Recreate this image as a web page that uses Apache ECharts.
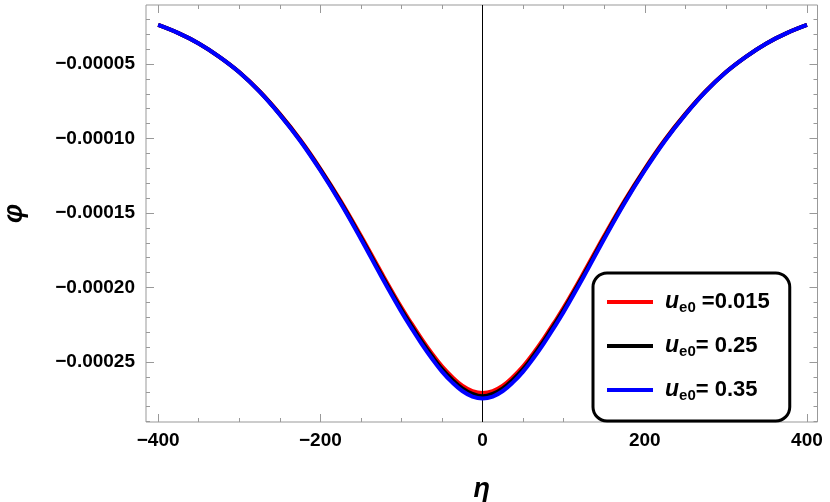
<!DOCTYPE html>
<html>
<head>
<meta charset="utf-8">
<script src="https://cdn.jsdelivr.net/npm/echarts@6/dist/echarts.min.js"></script>
<style>
  html, body { margin: 0; padding: 0; background: #fff; }
  #main { width: 830px; height: 502px; }
</style>
</head>
<body>
<div id="main"></div>
<script>
// eta values (x)
var eta = [-400, -375, -350, -325, -300, -275, -250, -225, -200, -175, -150, -125, -100, -87.5, -75, -62.5,
           -50, -37.5, -25, -12.5, 0, 12.5, 25, 37.5, 50, 62.5, 75, 87.5, 100, 125, 150, 175, 200, 225,
           250, 275, 300, 325, 350, 375, 400];

// phi for u_e0 = 0.015 (red)
var phiRed = [-2.38e-5, -2.93e-5, -3.62e-5, -4.50e-5, -5.54e-5, -6.83e-5, -8.35e-5, -10.07e-5, -12.03e-5,
              -14.18e-5, -16.53e-5, -18.98e-5, -21.35e-5, -22.43e-5, -23.47e-5, -24.43e-5,
              -25.30e-5, -26.01e-5, -26.59e-5, -26.95e-5, -27.08e-5, -26.95e-5, -26.59e-5, -26.01e-5,
              -25.30e-5, -24.43e-5, -23.47e-5, -22.43e-5, -21.35e-5, -18.98e-5, -16.53e-5, -14.18e-5,
              -12.03e-5, -10.07e-5, -8.35e-5, -6.83e-5, -5.54e-5, -4.50e-5, -3.62e-5, -2.93e-5, -2.38e-5];
// phi for u_e0 = 0.25 (black)
var phiBlack = [-2.38e-5, -2.93e-5, -3.62e-5, -4.50e-5, -5.55e-5, -6.84e-5, -8.38e-5, -10.11e-5, -12.09e-5,
                -14.27e-5, -16.65e-5, -19.12e-5, -21.50e-5, -22.59e-5, -23.64e-5, -24.60e-5,
                -25.48e-5, -26.19e-5, -26.77e-5, -27.14e-5, -27.30e-5, -27.14e-5, -26.77e-5, -26.19e-5,
                -25.48e-5, -24.60e-5, -23.64e-5, -22.59e-5, -21.50e-5, -19.12e-5, -16.65e-5, -14.27e-5,
                -12.09e-5, -10.11e-5, -8.38e-5, -6.84e-5, -5.55e-5, -4.50e-5, -3.62e-5, -2.93e-5, -2.38e-5];
// phi for u_e0 = 0.35 (blue)
var phiBlue = [-2.38e-5, -2.93e-5, -3.62e-5, -4.50e-5, -5.55e-5, -6.85e-5, -8.40e-5, -10.15e-5, -12.15e-5,
               -14.35e-5, -16.75e-5, -19.25e-5, -21.65e-5, -22.75e-5, -23.80e-5, -24.77e-5,
               -25.65e-5, -26.37e-5, -26.95e-5, -27.32e-5, -27.45e-5, -27.32e-5, -26.95e-5, -26.37e-5,
               -25.65e-5, -24.77e-5, -23.80e-5, -22.75e-5, -21.65e-5, -19.25e-5, -16.75e-5, -14.35e-5,
               -12.15e-5, -10.15e-5, -8.40e-5, -6.85e-5, -5.55e-5, -4.50e-5, -3.62e-5, -2.93e-5, -2.38e-5];

var legendLabels = [' =0.015', '= 0.25', '= 0.35'];
var seriesNames = ['a', 'b', 'c'];

// ticks
var xMajor = [-400, -200, 0, 200, 400];
var xMinor = [-400, -350, -300, -250, -200, -150, -100, -50, 0, 50, 100, 150, 200, 250, 300, 350, 400];
var yMajor = [-0.00025, -0.00020, -0.00015, -0.00010, -0.00005];
var yMinor = [-0.00029, -0.00028, -0.00027, -0.00026, -0.00025, -0.00024, -0.00023, -0.00022, -0.00021,
              -0.00020, -0.00019, -0.00018, -0.00017, -0.00016, -0.00015, -0.00014, -0.00013, -0.00012,
              -0.00011, -0.00010, -0.00009, -0.00008, -0.00007, -0.00006, -0.00005, -0.00004, -0.00003,
              -0.00002];

var xMin = -415, xMax = 413;
var yMin = -0.0002903, yMax = -0.0000104;
var tickColor = '#999';
var sans = 'Liberation Sans, Arial, sans-serif';
var labelFont = { color: '#000', fontWeight: 'bold', fontSize: 19, fontFamily: sans };
var nameFont = { fontSize: 27, fontWeight: 'bold', fontStyle: 'italic', color: '#000', fontFamily: sans };

function pairs(ys) {
    var out = [];
    for (var i = 0; i < eta.length; i++) out.push([eta[i], ys[i]]);
    return out;
}

function xAx(pos, ticks, len, labels) {
    var a = {
        type: 'value', position: pos, min: xMin, max: xMax,
        axisLine: { show: false, onZero: false },
        splitLine: { show: false },
        axisTick: { show: true, inside: true, length: len, customValues: ticks, lineStyle: { color: tickColor } },
        axisLabel: { show: false }
    };
    if (labels) {
        a.axisLabel = Object.assign({
            show: true, customValues: xMajor, margin: 9,
            formatter: function (v) { return String(v).replace('-', '\u2212'); }
        }, labelFont);
        a.name = '\u03b7';
        a.nameLocation = 'middle';
        a.nameGap = 54;
        a.nameTextStyle = nameFont;
    }
    return a;
}

function yAx(pos, ticks, len, labels) {
    var a = {
        type: 'value', position: pos, min: yMin, max: yMax,
        axisLine: { show: false, onZero: false },
        splitLine: { show: false },
        axisTick: { show: true, inside: true, length: len, customValues: ticks, lineStyle: { color: tickColor } },
        axisLabel: { show: false }
    };
    if (labels) {
        a.axisLabel = Object.assign({
            show: true, customValues: yMajor, margin: 11,
            formatter: function (v) { return v.toFixed(5).replace('-', '\u2212'); }
        }, labelFont);
        a.name = '\u03c6';
        a.nameLocation = 'middle';
        a.nameRotate = 90;
        a.nameGap = 118;
        a.nameTextStyle = nameFont;
    }
    return a;
}

var myChart = echarts.init(document.getElementById('main'), null, { renderer: 'canvas' });
var colors = ['#ff0000', '#000000', '#0000ff'];
var data = [phiRed, phiBlack, phiBlue];
var series = [];
for (var k = 0; k < 3; k++) {
    series.push({
        name: seriesNames[k],
        type: 'line',
        xAxisIndex: 0, yAxisIndex: 0,
        smooth: 0.4,
        showSymbol: false,
        animation: false,
        lineStyle: { color: colors[k], width: 4 },
        itemStyle: { color: colors[k] },
        data: pairs(data[k]),
        z: 3 + k
    });
}
// vertical axis line at eta = 0
series[0].markLine = {
    silent: true, symbol: 'none', animation: false,
    label: { show: false },
    lineStyle: { color: '#000', width: 1, type: 'solid' },
    data: [{ xAxis: 0 }]
};

var option = {
    animation: false,
    grid: {
        left: 146, right: 12.5, top: 5, bottom: 80,
        outerBoundsMode: 'none',
        show: true, borderColor: tickColor, borderWidth: 1, backgroundColor: 'transparent'
    },
    legend: {
        orient: 'vertical',
        left: 593, top: 273,
        selectedMode: false,
        data: seriesNames,
        icon: 'rect',
        itemWidth: 46, itemHeight: 4,
        itemGap: 18,
        padding: [16, 20, 18, 14],
        backgroundColor: '#fff',
        borderColor: '#000', borderWidth: 3, borderRadius: 14,
        formatter: function (name) {
            return '{u|u}{s|e0}{t|' + legendLabels[seriesNames.indexOf(name)] + '}';
        },
        textStyle: {
            lineHeight: 26,
            rich: {
                u: { fontSize: 23, fontWeight: 'bold', fontStyle: 'italic', color: '#000', lineHeight: 26, padding: [0, 0, 0, 7], fontFamily: sans },
                s: { fontSize: 15, fontWeight: 'bold', color: '#000', lineHeight: 14, verticalAlign: 'bottom', fontFamily: sans },
                t: { fontSize: 22, fontWeight: 'bold', color: '#000', lineHeight: 26, fontFamily: sans }
            }
        }
    },
    xAxis: [
        xAx('bottom', xMinor, 4, true),
        xAx('bottom', xMajor, 8, false),
        xAx('top', xMinor, 4, false),
        xAx('top', xMajor, 8, false)
    ],
    yAxis: [
        yAx('left', yMinor, 4, true),
        yAx('left', yMajor, 8, false),
        yAx('right', yMinor, 4, false),
        yAx('right', yMajor, 8, false)
    ],
    series: series
};
myChart.setOption(option);
</script>
</body>
</html>
